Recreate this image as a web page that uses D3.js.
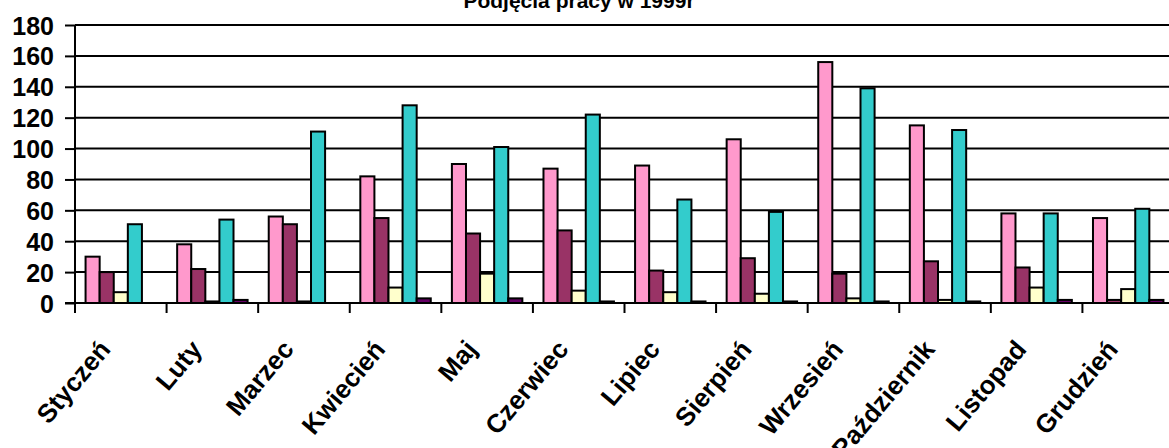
<!DOCTYPE html>
<meta charset="utf-8">
<style>
body { margin: 0; background: #fff; }
text { font-family: Arial, "Liberation Sans", sans-serif; font-weight: bold; fill: #000; }
</style>
<body>
<svg width="1169" height="448"></svg>
<script src="https://cdn.jsdelivr.net/npm/d3@7/dist/d3.min.js"></script>
<script>
const months = ["Styczeń", "Luty", "Marzec", "Kwiecień", "Maj", "Czerwiec",
  "Lipiec", "Sierpień", "Wrzesień", "Październik", "Listopad", "Grudzień"]
const seriesNames = ["s1", "s2", "s3", "s4", "s5"]
const s1 = [30, 38, 56, 82, 90, 87, 89, 106, 156, 115, 58, 55]
const s2 = [20, 22, 51, 55, 45, 47, 21, 29, 19, 27, 23, 2]
const s3 = [7, 1, 1, 10, 19, 8, 7, 6, 3, 2, 10, 9]
const s4 = [51, 54, 111, 128, 101, 122, 67, 59, 139, 112, 58, 61]
const s5 = [0, 2, 0, 3, 3, 1, 1, 1, 1, 1, 2, 2]
const yTicks = [0, 20, 40, 60, 80, 100, 120, 140, 160, 180]
const colors = ["#ff99cc", "#993366", "#ffffcc", "#33cccc", "#660066"]

const svg = d3.select("svg")
const plotL = 75, plotR = 1174, plotT = 25, plotB = 303

const x0 = d3.scaleBand().domain(months).range([plotL, plotR])
const bw = x0.bandwidth()
const barW = bw / 6.5
const x1 = d3.scaleBand().domain(seriesNames).range([barW * 0.75, bw - barW * 0.75])
const y = d3.scaleLinear().domain([0, 180]).range([plotB, plotT])
const color = d3.scaleOrdinal().domain(seriesNames).range(colors)

const data = months.map((m, i) => ({
  month: m,
  values: [s1[i], s2[i], s3[i], s4[i], s5[i]].map((v, j) => ({key: seriesNames[j], value: v}))
}))

// title (cut off at the top edge, as in the original)
svg.append("text")
  .attr("x", 579).attr("y", 8)
  .attr("text-anchor", "middle")
  .style("font-size", "21px")
  .text("Podjęcia pracy w 1999r")

// gridlines
svg.append("g")
  .selectAll("line")
  .data(yTicks.filter(d => d > 0))
  .enter().append("line")
    .attr("x1", plotL).attr("x2", 1169)
    .attr("y1", d => y(d)).attr("y2", d => y(d))
    .attr("stroke", "#000").attr("stroke-width", 2)

// bars
svg.append("g")
  .selectAll("g")
  .data(data)
  .enter().append("g")
    .attr("transform", d => `translate(${x0(d.month)},0)`)
  .selectAll("rect")
  .data(d => d.values)
  .enter().append("rect")
    .attr("x", d => x1(d.key))
    .attr("width", x1.bandwidth())
    .attr("y", d => y(d.value))
    .attr("height", d => y(0) - y(d.value))
    .attr("fill", d => color(d.key))
    .attr("stroke", "#000")
    .attr("stroke-width", 2)

// y axis
const yAxis = svg.append("g")
  .attr("transform", `translate(${plotL},0)`)
  .call(d3.axisLeft(y).tickValues(yTicks).tickSize(10).tickPadding(11))
yAxis.select(".domain").remove()
yAxis.selectAll("line").attr("stroke", "#000").attr("stroke-width", 2)
yAxis.selectAll("text").style("font-size", "25px").attr("font-family", null)
  .attr("dy", "0.36em")
svg.append("line")
  .attr("x1", plotL).attr("x2", plotL)
  .attr("y1", plotT).attr("y2", plotB + 10)
  .attr("stroke", "#000").attr("stroke-width", 2)

// x axis
svg.append("line")
  .attr("x1", plotL - 10).attr("x2", 1169)
  .attr("y1", plotB).attr("y2", plotB)
  .attr("stroke", "#000").attr("stroke-width", 2)
svg.append("g")
  .selectAll("line")
  .data(months)
  .enter().append("line")
    .attr("x1", d => x0(d)).attr("x2", d => x0(d))
    .attr("y1", plotB).attr("y2", plotB + 10)
    .attr("stroke", "#000").attr("stroke-width", 2)

svg.append("g")
  .selectAll("text")
  .data(months)
  .enter().append("text")
    .attr("text-anchor", "end")
    .style("font-size", "26px")
    .attr("transform", d => `translate(${x0(d) + bw / 2 - 9},350) rotate(-50)`)
    .text(d => d)
</script>
</body>
